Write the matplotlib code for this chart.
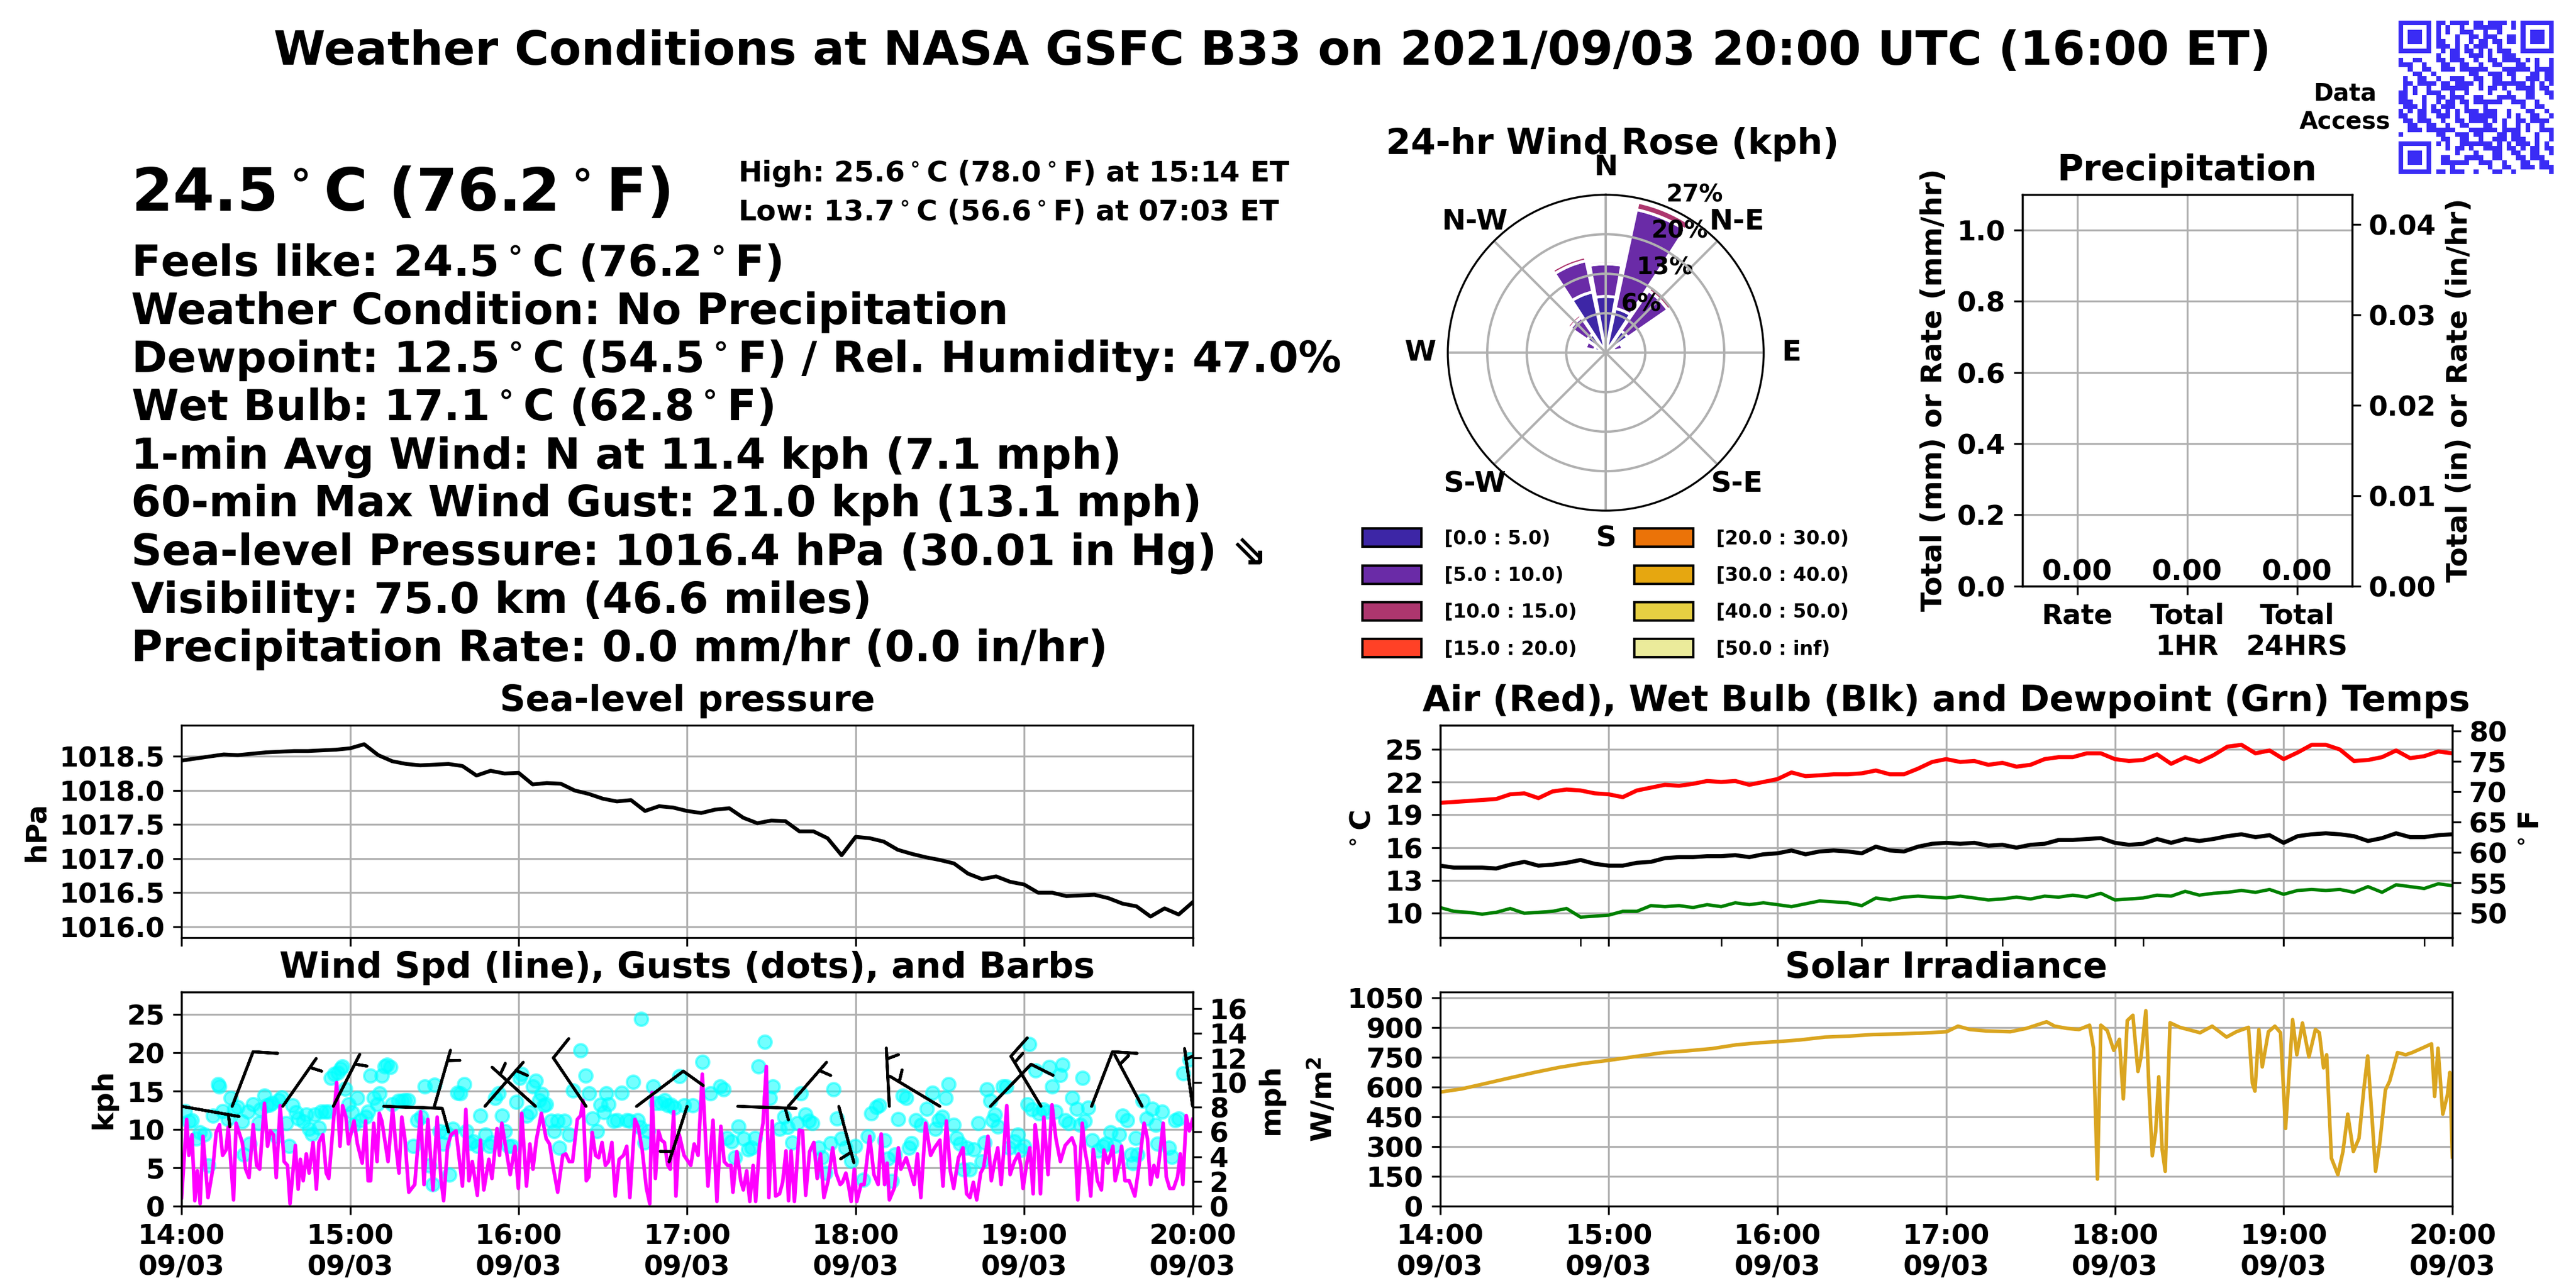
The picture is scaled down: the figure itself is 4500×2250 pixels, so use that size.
import numpy as np
import matplotlib
matplotlib.use('Agg')
import matplotlib.pyplot as plt
from matplotlib.patches import Patch
from matplotlib.colors import ListedColormap

plt.rcParams['font.family'] = ['DejaVu Sans']
plt.rcParams['font.weight'] = 'bold'
plt.rcParams['axes.titleweight'] = 'bold'
plt.rcParams['axes.labelweight'] = 'bold'
plt.rcParams['xtick.labelsize'] = 11.5
plt.rcParams['ytick.labelsize'] = 11.5

# ---------------- data ----------------
title = 'Weather Conditions at NASA GSFC B33 on 2021/09/03 20:00 UTC (16:00 ET)'
big_temp = '24.5$^\\circ$C (76.2$^\\circ$F)'
hi_lo = ['High: 25.6$^\\circ$C (78.0$^\\circ$F) at 15:14 ET',
         'Low: 13.7$^\\circ$C (56.6$^\\circ$F) at 07:03 ET']
info_lines = ['Feels like: 24.5$^\\circ$C (76.2$^\\circ$F)',
              'Weather Condition: No Precipitation',
              'Dewpoint: 12.5$^\\circ$C (54.5$^\\circ$F) / Rel. Humidity: 47.0%',
              'Wet Bulb: 17.1$^\\circ$C (62.8$^\\circ$F)',
              '1-min Avg Wind: N at 11.4 kph (7.1 mph)',
              '60-min Max Wind Gust: 21.0 kph (13.1 mph)',
              'Sea-level Pressure: 1016.4 hPa (30.01 in Hg) \u21d8',
              'Visibility: 75.0 km (46.6 miles)',
              'Precipitation Rate: 0.0 mm/hr (0.0 in/hr)']

time_ticks = [0, 60, 120, 180, 240, 300, 360]
time_labels = ['14:00\n09/03', '15:00\n09/03', '16:00\n09/03', '17:00\n09/03',
               '18:00\n09/03', '19:00\n09/03', '20:00\n09/03']

# 5-minute samples, minutes after 14:00 UTC
t5 = np.arange(0, 361, 5)
pressure = [1018.44, 1018.47, 1018.50, 1018.53, 1018.52, 1018.54, 1018.56, 1018.57, 1018.58, 1018.58,
            1018.59, 1018.60, 1018.62, 1018.68, 1018.52, 1018.43, 1018.39, 1018.37, 1018.38, 1018.39,
            1018.36, 1018.22, 1018.29, 1018.25, 1018.26, 1018.09, 1018.11, 1018.10, 1018.00, 1017.95,
            1017.88, 1017.84, 1017.86, 1017.70, 1017.77, 1017.75, 1017.70, 1017.67, 1017.72, 1017.74,
            1017.60, 1017.52, 1017.56, 1017.55, 1017.40, 1017.40, 1017.30, 1017.05, 1017.32, 1017.30,
            1017.25, 1017.13, 1017.07, 1017.02, 1016.98, 1016.93, 1016.78, 1016.70, 1016.74, 1016.66,
            1016.62, 1016.50, 1016.50, 1016.45, 1016.46, 1016.47, 1016.42, 1016.34, 1016.30, 1016.15,
            1016.27, 1016.18, 1016.36]

air_temp = [20.09, 20.17, 20.26, 20.35, 20.44, 20.87, 20.96, 20.52, 21.13, 21.31,
            21.22, 20.96, 20.87, 20.61, 21.22, 21.48, 21.74, 21.65, 21.83, 22.09,
            22.00, 22.09, 21.74, 22.00, 22.26, 22.87, 22.53, 22.61, 22.70, 22.70,
            22.79, 23.05, 22.70, 22.70, 23.22, 23.83, 24.09, 23.83, 23.92, 23.57,
            23.75, 23.40, 23.57, 24.09, 24.27, 24.27, 24.62, 24.62, 24.09, 23.92,
            24.01, 24.53, 23.66, 24.27, 23.83, 24.44, 25.23, 25.40, 24.62, 24.88,
            24.09, 24.70, 25.40, 25.40, 24.97, 23.92, 24.01, 24.27, 24.88, 24.18,
            24.36, 24.79, 24.62]

wet_bulb = [14.34, 14.16, 14.16, 14.16, 14.08, 14.43, 14.69, 14.34, 14.43, 14.60,
            14.86, 14.51, 14.34, 14.34, 14.60, 14.69, 15.03, 15.12, 15.12, 15.21,
            15.21, 15.30, 15.12, 15.38, 15.47, 15.73, 15.38, 15.64, 15.73, 15.64,
            15.47, 16.08, 15.73, 15.64, 16.08, 16.34, 16.43, 16.34, 16.43, 16.17,
            16.25, 15.99, 16.25, 16.34, 16.69, 16.69, 16.78, 16.86, 16.43, 16.25,
            16.34, 16.78, 16.43, 16.78, 16.60, 16.78, 17.04, 17.21, 16.95, 17.13,
            16.43, 17.04, 17.21, 17.30, 17.21, 17.04, 16.60, 16.86, 17.30, 16.95,
            16.95, 17.13, 17.21]

dewpoint = [10.51, 10.16, 10.07, 9.90, 10.07, 10.42, 9.98, 10.07, 10.16, 10.42,
            9.63, 9.72, 9.81, 10.16, 10.16, 10.68, 10.59, 10.68, 10.51, 10.77,
            10.59, 10.94, 10.77, 10.94, 10.77, 10.59, 10.85, 11.11, 11.03, 10.94,
            10.68, 11.38, 11.20, 11.46, 11.55, 11.46, 11.38, 11.55, 11.38, 11.20,
            11.29, 11.46, 11.29, 11.55, 11.46, 11.64, 11.46, 11.81, 11.20, 11.29,
            11.38, 11.64, 11.55, 11.99, 11.64, 11.81, 11.90, 12.07, 11.90, 12.16,
            11.72, 12.07, 12.16, 12.07, 12.16, 11.90, 12.42, 11.90, 12.59, 12.42,
            12.25, 12.68, 12.51]

solar_t = [0, 7.7, 16.4, 25, 33.6, 42.2, 50.8, 60, 70.9, 79.5, 88.1, 96.7, 105.3, 113.9, 120,
           128.2, 136.9, 145.5, 154.1, 162.7, 171.3, 180.2, 184.2, 188.5, 194.2, 202.8, 208.6,
           215.7, 218.6, 222.9, 227.2, 231.0, 232.4, 233.8, 235.0, 237.3, 239.6, 241.6, 243.0,
           244.4, 246.4, 248.2, 249.3, 251.0, 252.2, 253.3, 254.5, 255.6, 256.8, 257.9, 259.6,
           263.1, 270.3, 274.6, 279.7, 283.2, 287.5, 288.9, 289.8, 291.2, 292.4, 294.6, 296.9,
           298.9, 300.7, 303.2, 304.7, 306.7, 309.0, 311.3, 312.7, 314.2, 315.3, 317.0, 319.3,
           321.1, 322.8, 324.8, 326.8, 328.5, 329.9, 331.4, 332.7, 334.2, 336.2, 337.7, 340.5,
           343.4, 345.7, 349.2, 352.6, 353.7, 354.9, 356.6, 358.3, 359.1, 360.0]
solar_wm2 = [574, 590, 618, 646, 673, 698, 718, 734, 756, 773, 782, 793, 812, 823, 828,
             837, 851, 856, 864, 867, 871, 878, 906, 889, 882, 878, 895,
             928, 906, 895, 889, 911, 795, 136, 911, 884, 784, 840, 540,
             934, 961, 678, 751, 984, 563, 253, 374, 651, 286, 175, 923,
             900, 873, 906, 851, 878, 900, 618, 579, 889, 701, 878, 906,
             873, 391, 939, 762, 922, 751, 889, 873, 696, 762, 241, 158,
             275, 463, 275, 341, 585, 756, 452, 175, 319, 585, 629, 773,
             762, 773, 795, 817, 552, 795, 463, 563, 673, 247]

wind_t = [0.0, 1.8, 2.6, 3.7, 4.7, 5.6, 6.6, 7.6, 9.4, 11.1, 12.3, 13.5, 14.6, 15.8, 16.6, 18.5,
          19.4, 21.6, 22.8, 24.0, 25.5, 26.7, 27.8, 29.5, 30.6, 31.6, 32.7, 33.7, 35.1, 36.5,
          37.7, 38.6, 40.5, 41.5, 42.3, 43.3, 44.4, 45.4, 46.8, 48.0, 48.9, 50.3, 51.5, 52.4,
          53.8, 55.2, 56.4, 57.3, 58.5, 59.4, 61.4, 62.6, 64.3, 65.5, 66.4, 67.3, 68.4, 69.6,
          70.4, 71.3, 73.5, 75.1, 76.3, 77.4, 78.4, 79.5, 80.9, 83.0, 85.1, 86.3, 87.7, 89.5,
          91.0, 92.4, 93.3, 94.7, 95.9, 97.7, 100.0, 101.2, 102.3, 103.5, 105.3, 106.4, 107.6,
          109.4, 110.5, 112.3, 113.2, 114.0, 115.8, 117.0, 118.7, 119.9, 121.1, 122.8, 124.0,
          125.1, 126.3, 128.1, 129.8, 131.0, 132.2, 133.9, 135.7, 136.8, 138.0, 139.2, 140.9,
          142.1, 142.9, 144.1, 145.0, 146.2, 147.4, 148.5, 149.7, 150.9, 152.0, 153.2, 154.4,
          155.8, 157.3, 158.5, 159.6, 161.4, 162.6, 164.0, 165.5, 166.7, 167.5, 168.7, 169.8,
          170.8, 171.9, 173.1, 174.0, 175.2, 176.0, 177.2, 178.9,
          181.3, 182.5, 183.9, 185.4, 187.4, 189.2, 190.6, 192.0, 193.2, 194.4, 195.6, 196.3,
          197.7, 199.1, 200.0, 201.2, 202.3, 203.5, 204.4, 205.8, 207.0, 208.2, 209.1, 210.3,
          211.5, 212.9, 214.0, 215.2, 216.1, 217.0, 218.2, 219.9, 221.1, 222.2, 223.6, 225.1,
          226.3, 227.5, 228.7, 230.2, 231.8, 233.0, 234.5, 235.3, 236.5, 237.4, 238.4, 239.5,
          240.4, 241.9, 243.0, 245.0, 246.5, 248.0, 249.1, 250.3, 251.2, 252.0, 253.8, 255.2,
          256.1, 258.0, 259.4, 260.8, 262.0, 263.2, 264.9, 266.7, 268.1, 270.0, 271.1, 272.3,
          273.7, 274.9, 276.6, 278.2, 279.5, 280.7, 281.9, 283.1, 284.5, 285.6, 287.1, 288.3,
          289.5, 290.6, 291.8, 292.6, 293.8, 295.0, 296.5, 298.0, 298.8, 299.6, 300.8, 302.0,
          303.2, 303.9, 305.0, 305.8, 307.0, 308.5, 309.9, 311.3, 312.9, 314.6, 317.0, 318.1,
          319.1, 320.7, 321.6, 322.6, 323.7, 324.6, 326.1, 327.5, 328.4, 329.8, 331.6, 332.4,
          333.9, 334.7, 335.9, 337.4, 339.4, 340.9, 342.7, 343.9, 345.0, 346.2, 347.4, 349.5,
          350.6, 351.8, 353.2, 354.6, 355.6, 356.5, 357.7, 358.8, 360.0]
wind_kph = [1.1, 11.3, 6.6, 9.3, 0.7, 4.6, 0.3, 9.1, 1.1, 4.8, 9.6, 10.6, 6.6, 7.3, 10.3, 0.8,
            10.8, 8.3, 4.8, 3.7, 10.6, 5.3, 4.8, 13.4, 7.8, 9.8, 9.3, 3.7, 13.1, 5.8,
            5.3, 0.3, 7.9, 2.2, 6.1, 3.3, 6.8, 4.3, 8.3, 2.2, 8.3, 9.3, 4.3, 3.6,
            9.8, 16.1, 7.8, 13.1, 11.6, 8.1, 11.1, 8.1, 5.6, 11.1, 3.3, 3.3, 10.8, 5.8,
            12.1, 11.1, 5.8, 12.8, 7.8, 4.3, 11.6, 8.8, 1.8, 2.8, 12.3, 2.8, 11.3, 2.1,
            11.6, 3.3, 0.7, 7.8, 9.3, 9.8, 2.6, 12.6, 3.3, 5.8, 1.4, 8.6, 2.1,
            6.1, 3.6, 10.1, 6.6, 10.8, 6.8, 4.1, 7.8, 2.3, 12.1, 2.6, 8.1,
            4.8, 8.6, 12.1, 8.8, 8.1, 5.3, 1.8, 6.6, 6.8, 5.8, 5.8, 11.3,
            11.8, 13.8, 3.3, 3.8, 9.6, 6.6, 6.3, 8.3, 5.3, 5.8, 8.3, 1.3,
            6.1, 6.6, 7.8, 1.1, 11.3, 10.3, 7.3, 2.3, 0.3, 14.8, 3.6, 9.8,
            8.6, 8.3, 5.3, 4.8, 12.3, 1.3, 9.3, 6.6,
            5.3, 8.1, 6.6, 17.2, 2.6, 11.2, 0.6, 10.4, 5.8, 5.3, 5.3, 1.8,
            7.1, 3.3, 2.1, 4.6, 0.6, 5.3, 0.6, 8.1, 10.8, 18.2, 1.1, 11.1,
            1.3, 1.6, 3.1, 7.2, 0.7, 7.2, 0.6, 9.9, 9.8, 1.4, 7.1, 8.3,
            3.6, 6.8, 1.1, 3.3, 7.6, 4.3, 2.8, 3.1, 4.3, 2.8, 0.6, 4.8,
            0.6, 2.8, 2.8, 9.1, 4.1, 2.8, 9.4, 2.8, 5.6, 0.8, 2.4, 7.6,
            4.8, 6.3, 4.6, 2.8, 6.8, 1.1, 10.8, 6.6, 7.6, 8.6, 2.6, 11.1,
            4.6, 2.3, 6.3, 7.6, 1.6, 1.1, 3.1, 0.8, 4.3, 5.1, 9.1, 3.3,
            5.8, 7.6, 2.8, 6.6, 13.1, 4.1, 5.8, 6.8, 5.3, 2.3, 5.3, 7.6,
            1.6, 10.6, 7.3, 1.6, 11.6, 4.1, 13.2, 8.8, 5.8, 7.9, 8.9, 7.8,
            0.8, 10.8, 7.3, 5.3, 1.3, 7.4, 3.3, 2.1, 7.3, 5.6, 7.8, 3.3,
            5.6, 7.8, 3.3, 3.3, 1.3, 5.3, 10.8, 8.8, 2.8, 5.3, 3.8, 10.8,
            3.8, 2.3, 2.3, 3.8, 6.8, 2.8, 11.8, 9.8, 11.3]

gust_t = [1.2, 2.6, 3.7, 5.3, 6.4, 8.2, 9.6, 11.1, 12.9, 13.5, 14.6, 16.4, 17.5, 18.7, 19.9,
          21.6, 22.2, 23.6, 24.3, 25.5, 27.5, 28.1, 29.6, 30.4, 31.3, 32.2, 33.7, 34.5, 35.7,
          37.2, 38.2, 39.5, 40.7, 41.5, 43.3, 44.4, 45.4, 46.5, 47.5, 48.9, 49.7, 51.2, 52.4,
          53.2, 54.4, 55.6, 56.7, 57.3, 58.2, 59.4, 60.6, 61.4, 62.6, 63.7, 65.5, 66.4, 67.3,
          68.4, 69.6, 70.4, 71.3, 72.3, 73.1, 74.3, 74.9, 77.2, 78.4, 79.5, 80.7, 82.5, 84.0,
          85.4, 86.5, 88.3, 89.5, 90.1, 91.8, 93.0, 94.2, 95.3, 96.5, 98.2, 99.2, 100.6, 101.5,
          102.7, 103.9, 105.3, 106.4, 108.2, 109.7, 110.5, 111.7, 112.9, 114.0, 115.2, 116.4,
          117.5, 119.1, 120.5, 121.1, 122.8, 124.0, 125.1, 126.1, 127.3, 128.1, 128.9, 129.8,
          131.6, 132.7, 133.9, 134.5, 136.3, 138.0, 139.4, 142.1, 143.9, 145.0, 146.2, 147.9,
          149.1, 150.3, 151.1, 152.0, 153.8, 155.0, 156.7, 158.5, 159.6, 160.8, 162.3, 163.2,
          163.6, 164.9, 166.1, 167.8, 169.0, 170.8, 171.9, 173.1, 174.3, 175.4, 177.2, 178.9,
          181.9, 185.4, 188.3, 191.8, 193.0, 194.2, 195.9, 197.1, 198.2, 200.0, 201.8, 202.9,
          204.1, 205.3, 207.6, 209.4, 210.5, 212.9, 214.6, 215.8, 217.5, 219.3, 220.5, 222.2,
          223.4, 224.6, 226.9, 228.1, 229.2, 231.0, 232.2, 233.3, 234.9, 236.3, 238.4, 239.8,
          242.7, 244.4, 245.6, 247.4, 248.5, 250.3, 251.5, 252.9, 254.0, 255.2, 256.7, 257.9,
          259.1, 259.9, 261.4, 263.2, 265.3, 267.3, 268.4, 269.6, 270.8, 272.0, 273.1, 274.9,
          276.0, 277.2, 278.4, 279.5, 280.7, 282.1, 283.6, 284.8, 286.0, 286.8, 288.0, 288.7,
          289.5, 290.6, 292.4, 293.6, 294.7, 296.5, 297.7, 298.8, 300.0, 301.2, 301.8, 302.9,
          304.1, 305.3, 306.7, 308.2, 309.0, 309.9, 311.1, 312.9, 313.7, 314.6, 315.8, 317.0,
          318.7, 319.9, 320.7, 321.6, 322.8, 324.2, 326.3, 328.1, 329.2, 330.8, 332.2, 333.9,
          335.1, 336.6, 338.0, 338.6, 339.8, 340.4, 342.1, 343.6, 345.6, 346.8, 347.4, 349.1,
          351.5, 352.6, 353.8, 355.0, 356.7, 358.8]
gust_kph = [12.4, 11.0, 11.2, 8.8, 9.6, 9.3, 5.3, 11.8, 15.9, 15.6, 12.4, 11.3, 14.1, 12.6, 12.9,
            11.0, 6.7, 12.3, 8.1, 13.3, 10.8, 12.6, 14.4, 13.1, 13.2, 13.4, 9.1, 13.8, 14.2,
            10.8, 7.8, 13.1, 12.2, 11.4, 11.0, 11.9, 10.1, 9.4, 11.9, 10.2, 12.3, 12.3, 12.3,
            16.7, 17.2, 17.4, 17.9, 18.2, 15.3, 13.3, 12.2, 10.6, 14.1, 11.2, 11.6, 12.3, 17.0,
            14.1, 13.3, 14.7, 17.0, 18.2, 18.4, 18.1, 13.3, 13.7, 13.7, 13.8, 13.8, 7.8, 11.2,
            11.6, 15.6, 5.3, 2.8, 15.8, 9.8, 8.1, 9.6, 4.1, 10.1, 14.8, 14.7, 15.9, 9.8,
            8.2, 8.4, 7.8, 11.8, 9.3, 7.8, 8.3, 14.1, 14.7, 11.8, 9.8, 7.8,
            7.8, 13.6, 16.7, 17.2, 11.8, 12.2, 15.6, 16.3, 13.8, 14.6, 13.1, 13.3,
            11.1, 9.8, 11.1, 7.6, 11.1, 9.3, 15.1, 20.3, 17.0, 14.7, 11.4, 9.8,
            13.2, 12.2, 14.7, 13.3, 11.1, 11.2, 14.8, 11.2, 11.1, 16.2, 11.2, 10.3,
            24.4, 8.3, 9.8, 15.6, 13.4, 13.4, 13.8, 13.1, 13.2, 12.8, 16.9, 13.1,
            13.1, 18.8, 14.7, 15.6, 15.2, 8.9, 8.4, 6.3, 10.4, 8.8, 7.4, 7.6,
            8.9, 18.2, 21.4, 14.1, 15.6, 10.1, 11.6, 10.3, 8.3, 10.8, 14.7, 11.9,
            11.1, 10.8, 7.6, 6.3, 4.3, 8.2, 15.2, 11.4, 8.8, 7.6, 5.9, 7.8,
            3.4, 9.1, 12.1, 12.9, 13.1, 8.6, 6.2, 3.3, 6.7, 11.3, 14.4, 14.1,
            7.6, 8.2, 11.2, 10.6, 12.7, 14.8, 10.1, 11.2, 11.6, 14.1, 15.9, 10.6,
            8.9, 8.1, 4.8, 7.6, 4.8, 7.4, 10.8, 5.8, 8.3, 15.2, 13.7, 11.2,
            11.9, 10.4, 15.6, 15.6, 7.6, 8.4, 9.3, 7.3, 7.8, 13.3, 21.1, 12.6,
            17.7, 12.1, 12.6, 12.3, 18.1, 15.6, 12.3, 17.1, 18.4, 11.2, 10.8, 14.1,
            12.7, 10.6, 16.7, 11.1, 12.8, 8.6, 7.2, 7.8, 8.1, 9.6, 7.8, 9.3,
            11.8, 11.2, 6.7, 5.6, 8.9, 6.7, 13.7, 11.4, 12.7, 10.6, 8.1, 12.3,
            7.6, 6.4, 11.2, 11.4, 17.3, 19.1]

barb_t = [0, 18, 36, 54, 72, 90, 108, 126, 144, 162, 180, 198, 216, 234, 252, 270, 288, 306, 324, 342, 360]
barb_dir = [100, 21, 35, 27, 92, 16, 41, 312, 326, 53, 198, 92, 41, 165, 357, 301, 44, 329, 21, 332, 352]
barb_kph = [7, 12, 7, 7, 12, 7, 7, 7, 12, 12, 7, 7, 7, 7, 7, 7, 12, 16, 12, 7, 7]
barb_level = 13.0

# wind rose: percent of time per 22.5-degree sector and speed bin
rose_dirs = np.arange(0, 360, 22.5)
rose_bins = ['[0.0 : 5.0)', '[5.0 : 10.0)', '[10.0 : 15.0)', '[15.0 : 20.0)',
             '[20.0 : 30.0)', '[30.0 : 40.0)', '[40.0 : 50.0)', '[50.0 : inf)']
rose_0_5 =   [9.7, 7.8, 4.6, 1.5, 0.5, 0, 0, 0, 0, 0, 0, 0, 0.4, 2.0, 3.9, 10.7]
rose_5_10 =  [5.6, 17.4, 8.4, 1.5, 0.3, 0, 0, 0, 0, 0, 0, 0, 0.3, 1.6, 3.5, 5.5]
rose_10_15 = [0.5, 1.3, 0.9, 0, 0, 0, 0, 0, 0, 0, 0, 0, 0, 0, 0.6, 0.7]
rose_rmax = 27.2

precip_labels = ['Rate', 'Total\n1HR', 'Total\n24HRS']
precip_mm = [0.0, 0.0, 0.0]

# ---------------- figure ----------------
fig = plt.figure(figsize=(15, 7.5), dpi=300)
fig.text(0.494, 0.96, title, ha='center', va='center', fontsize=19.7, fontweight='bold')

fig.text(0.051, 0.8365, big_temp, fontsize=25, fontweight='bold', va='baseline')
fig.text(0.2865, 0.859, hi_lo[0], fontsize=12, fontweight='bold', va='baseline')
fig.text(0.2865, 0.829, hi_lo[1], fontsize=12, fontweight='bold', va='baseline')
y0 = 0.786
for i, line in enumerate(info_lines):
    fig.text(0.051, y0 - i * 0.0374, line, fontsize=18, fontweight='bold', va='baseline',
             family=['DejaVu Sans'])

gridc = '#b0b0b0'

# ---- pressure ----
ax_p = fig.add_axes([0.0705, 0.272, 0.3925, 0.165])
ax_p.plot(t5, pressure, color='black', lw=1.6)
ax_p.set_xlim(0, 360)
ax_p.set_ylim(1015.84, 1018.96)
p_ticks = [1016.0, 1016.5, 1017.0, 1017.5, 1018.0, 1018.5]
ax_p.set_yticks(p_ticks)
ax_p.set_yticklabels(['%.1f' % v for v in p_ticks])
ax_p.set_xticks(time_ticks)
ax_p.set_xticklabels([])
ax_p.grid(True, color=gridc)
ax_p.set_title('Sea-level pressure', fontsize=15)
ax_p.set_ylabel('hPa', fontsize=12)

# ---- wind ----
ax_w = fig.add_axes([0.0705, 0.0636, 0.3925, 0.1662])
ax_w.plot(gust_t, gust_kph, 'o', color='cyan', alpha=0.55, ms=5.5, mew=1.0)
ax_w.plot(wind_t, wind_kph, color='magenta', lw=1.5)
bd = np.deg2rad(barb_dir)
bs = np.array(barb_kph, dtype=float)
ax_w.barbs(barb_t, np.full(len(barb_t), barb_level), -bs * np.sin(bd), -bs * np.cos(bd),
           length=7, lw=1.2, color='black', zorder=5)
ax_w.set_xlim(0, 360)
ax_w.set_ylim(0, 27.9)
ax_w.set_yticks([0, 5, 10, 15, 20, 25])
ax_w.set_xticks(time_ticks)
ax_w.set_xticklabels(time_labels)
ax_w.grid(True, color=gridc)
ax_w.set_title('Wind Spd (line), Gusts (dots), and Barbs', fontsize=15)
ax_w.set_ylabel('kph', fontsize=12)
ax_w2 = ax_w.twinx()
ax_w2.set_ylim(0, 27.9 / 1.609344)
ax_w2.set_yticks(np.arange(0, 17, 2))
ax_w2.set_ylabel('mph', fontsize=12)

# ---- temperatures ----
ax_t = fig.add_axes([0.559, 0.272, 0.393, 0.165])
ax_t.plot(t5, air_temp, color='red', lw=1.7)
ax_t.plot(t5, wet_bulb, color='black', lw=1.7)
ax_t.plot(t5, dewpoint, color='green', lw=1.4)
ax_t.set_xlim(0, 360)
ax_t.set_ylim(7.75, 27.2)
ax_t.set_yticks([10, 13, 16, 19, 22, 25])
ax_t.set_xticks(time_ticks)
ax_t.set_xticks([50, 100, 150, 200, 250, 350], minor=True)
ax_t.tick_params(axis='x', which='minor', length=3.5)
ax_t.set_xticklabels([])
ax_t.grid(True, color=gridc)
ax_t.set_title('Air (Red), Wet Bulb (Blk) and Dewpoint (Grn) Temps', fontsize=15)
ax_t.set_ylabel('$^\\circ$C', fontsize=12)
ax_t2 = ax_t.twinx()
ax_t2.set_ylim(7.75 * 9 / 5 + 32, 27.2 * 9 / 5 + 32)
ax_t2.set_yticks([50, 55, 60, 65, 70, 75, 80])
ax_t2.set_ylabel('$^\\circ$F', fontsize=12)

# ---- solar ----
ax_s = fig.add_axes([0.559, 0.0636, 0.393, 0.1662])
ax_s.plot(solar_t, solar_wm2, color='goldenrod', lw=1.5)
ax_s.set_xlim(0, 360)
ax_s.set_ylim(0, 1078)
ax_s.set_yticks(np.arange(0, 1051, 150))
ax_s.set_xticks(time_ticks)
ax_s.set_xticklabels(time_labels)
ax_s.grid(True, color=gridc)
ax_s.set_title('Solar Irradiance', fontsize=15)
ax_s.set_ylabel('W/m$^2$', fontsize=12)

# ---- wind rose ----
ax_r = fig.add_axes([0.562, 0.6035, 0.1227, 0.2453], projection='polar')
ax_r.set_theta_zero_location('N')
ax_r.set_theta_direction(-1)
colors = plt.get_cmap('CMRmap')(np.linspace(0.2, 0.9, 8))
theta = np.deg2rad(rose_dirs)
w = np.deg2rad(22.5) * 0.92
bottom = np.zeros(len(rose_dirs))
for vals, c in zip([rose_0_5, rose_5_10, rose_10_15], colors[:3]):
    ax_r.bar(theta, vals, width=w, bottom=bottom, color=c, edgecolor='white', lw=1.2)
    bottom = bottom + np.array(vals)
ax_r.set_ylim(0, rose_rmax)
rt = [rose_rmax * k / 4 for k in range(1, 5)]
ax_r.set_yticks(rt)
ax_r.set_yticklabels(['%d%%' % int(v) for v in rt], fontsize=10)
ax_r.set_rlabel_position(22.5)
ax_r.set_xticks(np.deg2rad(np.arange(0, 360, 45)))
ax_r.set_xticklabels(['N', 'N-E', 'E', 'S-E', 'S', 'S-W', 'W', 'N-W'], fontsize=12)
ax_r.tick_params(axis='x', pad=1)
ax_r.grid(True, color=gridc, lw=1.0)
fig.text(0.626, 0.888, '24-hr Wind Rose (kph)', ha='center', va='center', fontsize=15, fontweight='bold')
handles = [Patch(facecolor=c, edgecolor='black', lw=1) for c in colors]
fig.legend(handles, rose_bins, loc='upper center', bbox_to_anchor=(0.6233, 0.597), ncol=2,
           frameon=False, fontsize=8, handlelength=3.1, handleheight=1.1, handletextpad=1.2,
           columnspacing=3.0, labelspacing=0.9, borderpad=0)

# ---- precipitation ----
ax_pr = fig.add_axes([0.785, 0.545, 0.128, 0.304])
xpos = np.arange(len(precip_mm))
ax_pr.bar(xpos, precip_mm, color='blue')
for xp, v in zip(xpos, precip_mm):
    ax_pr.text(xp, v, '%.2f' % v, ha='center', va='bottom', fontsize=12, fontweight='bold')
ax_pr.set_xlim(-0.5, 2.5)
ax_pr.set_ylim(0, 1.1)
pr_ticks = np.arange(0, 1.01, 0.2)
ax_pr.set_yticks(pr_ticks)
ax_pr.set_yticklabels(['%.1f' % v for v in pr_ticks])
ax_pr.set_xticks(xpos)
ax_pr.set_xticklabels(precip_labels)
ax_pr.grid(True, color=gridc)
ax_pr.set_title('Precipitation', fontsize=15)
ax_pr.set_ylabel('Total (mm) or Rate (mm/hr)', fontsize=12)
ax_pr2 = ax_pr.twinx()
ax_pr2.set_ylim(0, 1.1 / 25.4)
ax_pr2.set_yticks([0, 0.01, 0.02, 0.03, 0.04])
ax_pr2.set_yticklabels(['0.00', '0.01', '0.02', '0.03', '0.04'])
ax_pr2.set_ylabel('Total (in) or Rate (in/hr)', fontsize=12)

# ---- QR-style data access badge ----
qr_text = 'https://science.gsfc.nasa.gov/weather/b33/data'
n = 33
qr = np.zeros((n, n))
bits = np.unpackbits(np.frombuffer((qr_text * 30).encode(), dtype=np.uint8))
for r in range(n):
    for c in range(n):
        qr[r, c] = bits[(r * 7 + c * 13) % len(bits)] ^ ((r + c) % 2 == 0)


def finder(r0, c0):
    qr[r0:r0 + 7, c0:c0 + 7] = 1
    qr[r0 + 1:r0 + 6, c0 + 1:c0 + 6] = 0
    qr[r0 + 2:r0 + 5, c0 + 2:c0 + 5] = 1


for (r0, c0) in [(0, 0), (0, n - 7), (n - 7, 0)]:
    rr0, cc0 = max(r0 - 1, 0), max(c0 - 1, 0)
    qr[rr0:min(r0 + 8, n), cc0:min(c0 + 8, n)] = 0
    finder(r0, c0)
ax_q = fig.add_axes([0.931, 0.865, 0.06, 0.119])
ax_q.imshow(qr, cmap=ListedColormap(['white', '#3a2cf5']), interpolation='nearest', aspect='auto')
ax_q.axis('off')
fig.text(0.928, 0.9164, 'Data\nAccess', ha='right', va='center', fontsize=10, fontweight='bold',
         multialignment='center')

fig.savefig('out.png', dpi=300)
